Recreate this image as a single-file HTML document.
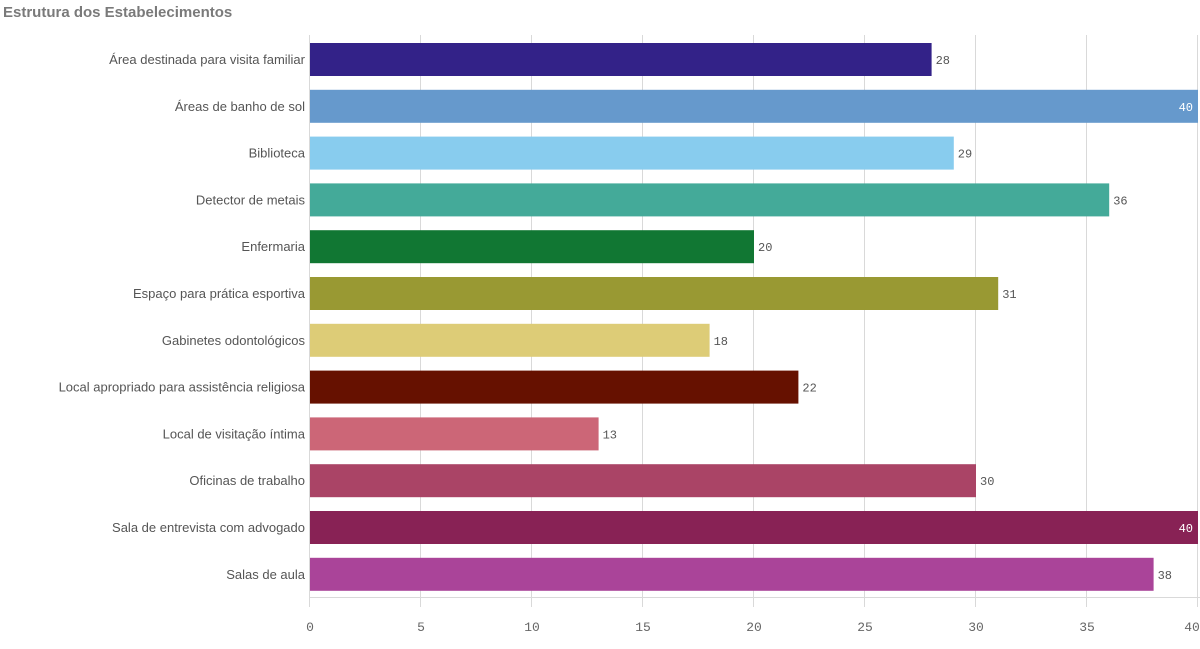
<!DOCTYPE html>
<html><head><meta charset="utf-8"><style>
body{margin:0;background:#fff;width:1200px;height:644px;overflow:hidden;}
</style></head><body>
<svg width="1200" height="644" xmlns="http://www.w3.org/2000/svg" font-family="Liberation Sans, sans-serif">
<text x="3" y="17" font-size="15" font-weight="bold" fill="#7a7a7a">Estrutura dos Estabelecimentos</text>
<g stroke="#d9d9d9" stroke-width="1">
<line x1="420.5" y1="35" x2="420.5" y2="607"/>
<line x1="531.5" y1="35" x2="531.5" y2="607"/>
<line x1="642.5" y1="35" x2="642.5" y2="607"/>
<line x1="753.5" y1="35" x2="753.5" y2="607"/>
<line x1="864.5" y1="35" x2="864.5" y2="607"/>
<line x1="975.5" y1="35" x2="975.5" y2="607"/>
<line x1="1086.5" y1="35" x2="1086.5" y2="607"/>
<line x1="1197.5" y1="35" x2="1197.5" y2="607"/>
<line x1="309.5" y1="35" x2="309.5" y2="607"/>
<line x1="309" y1="597.5" x2="1200" y2="597.5"/>
</g>
<g>
<rect x="310" y="43" width="621.6" height="33" fill="#332288"/>
<rect x="310" y="89.8" width="888" height="33" fill="#6699cc"/>
<rect x="310" y="136.6" width="643.8" height="33" fill="#88ccee"/>
<rect x="310" y="183.4" width="799.2" height="33" fill="#44aa99"/>
<rect x="310" y="230.2" width="444" height="33" fill="#117733"/>
<rect x="310" y="277" width="688.2" height="33" fill="#999933"/>
<rect x="310" y="323.8" width="399.6" height="33" fill="#ddcc77"/>
<rect x="310" y="370.6" width="488.4" height="33" fill="#661100"/>
<rect x="310" y="417.4" width="288.6" height="33" fill="#cc6677"/>
<rect x="310" y="464.2" width="666" height="33" fill="#aa4466"/>
<rect x="310" y="511" width="888" height="33" fill="#882255"/>
<rect x="310" y="557.8" width="843.6" height="33" fill="#aa4499"/>
</g>
<g font-size="13" fill="#555" text-anchor="end">
<text x="305" y="64">Área destinada para visita familiar</text>
<text x="305" y="110.8">Áreas de banho de sol</text>
<text x="305" y="157.6">Biblioteca</text>
<text x="305" y="204.4">Detector de metais</text>
<text x="305" y="251.2">Enfermaria</text>
<text x="305" y="298">Espaço para prática esportiva</text>
<text x="305" y="344.8">Gabinetes odontológicos</text>
<text x="305" y="391.6">Local apropriado para assistência religiosa</text>
<text x="305" y="438.4">Local de visitação íntima</text>
<text x="305" y="485.2">Oficinas de trabalho</text>
<text x="305" y="532">Sala de entrevista com advogado</text>
<text x="305" y="578.8">Salas de aula</text>
</g>
<g font-family="Liberation Mono, monospace" font-size="12" fill="#555">
<text x="935.6" y="64">28</text>
<text x="1193" y="110.8" fill="#fff" text-anchor="end">40</text>
<text x="957.8" y="157.6">29</text>
<text x="1113.2" y="204.4">36</text>
<text x="758" y="251.2">20</text>
<text x="1002.2" y="298">31</text>
<text x="713.6" y="344.8">18</text>
<text x="802.4" y="391.6">22</text>
<text x="602.6" y="438.4">13</text>
<text x="980" y="485.2">30</text>
<text x="1193" y="532" fill="#fff" text-anchor="end">40</text>
<text x="1157.6" y="578.8">38</text>
</g>
<g font-family="Liberation Mono, monospace" font-size="13" fill="#666" text-anchor="middle">
<text x="310" y="631">0</text><text x="421" y="631">5</text><text x="532" y="631">10</text><text x="643" y="631">15</text><text x="754" y="631">20</text><text x="865" y="631">25</text><text x="976" y="631">30</text><text x="1087" y="631">35</text><text x="1192" y="631">40</text>
</g>
</svg>
</body></html>
